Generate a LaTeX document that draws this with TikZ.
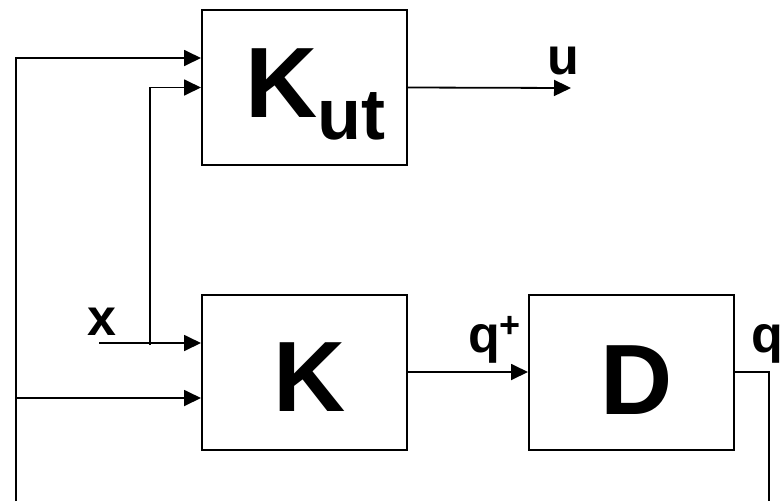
\documentclass[tikz,border=0pt]{standalone}
\usepackage{fontspec}
\setmainfont{Liberation Sans}
\usetikzlibrary{arrows.meta,calc}
\tikzset{
  blk/.style={draw, line width=2pt, minimum width=205pt, minimum height=155pt, inner sep=0pt},
  conn/.style={line width=1.8pt},
  arr/.style={conn, -{Triangle[length=17pt,width=16pt]}},
  bigtxt/.style={inner sep=0pt, anchor=base west, font=\fontsize{100}{100}\selectfont\bfseries},
  smalltxt/.style={inner sep=0pt, anchor=base west, font=\fontsize{52}{52}\selectfont\bfseries}
}
\begin{document}
\begin{tikzpicture}[x=1pt,y=-1pt]
\useasboundingbox (0,0) rectangle (783,501);
\node[blk] (kut) at (304.5,87.5) {};
\node[blk] (k) at (304.5,372) {};
\node[blk] (d) at (631.5,372) {};
\node[bigtxt] (kutlbl) at (245,117) {K\raisebox{-22pt}{\fontsize{72}{72}\selectfont ut}};
\node[bigtxt] (klbl) at (273,411) {K};
\node[bigtxt] (dlbl) at (600,414) {D};
\node[smalltxt] (xlbl) at (87,335) {x};
\node[smalltxt] (ulbl) at (547,74) {u};
\node[smalltxt] (qplbl) at (468,352) {q\raisebox{15pt}{\fontsize{36}{36}\selectfont +}};
\node[smalltxt] (qlbl) at (751,352) {q};
\coordinate (lb) at (16,501);
\coordinate (lj) at (16,398);
\coordinate (xs) at (99,343);
\coordinate (xj) at (150,345);
\coordinate (uend) at (571,88);
\coordinate (rb) at (769,501);
\draw[arr] (lb) |- ([yshift=29.5pt]kut.west);
\draw[arr] (lj) -- ([yshift=-26pt]k.west);
\draw[arr] (xs) -- ([yshift=29pt]k.west);
\draw[arr] (xj) |- (kut.west);
\draw[arr] (kut.east) -- (uend);
\draw[arr] (k.east) -- (d.west);
\draw[conn] (d.east) -| (rb);
\end{tikzpicture}
\end{document}
